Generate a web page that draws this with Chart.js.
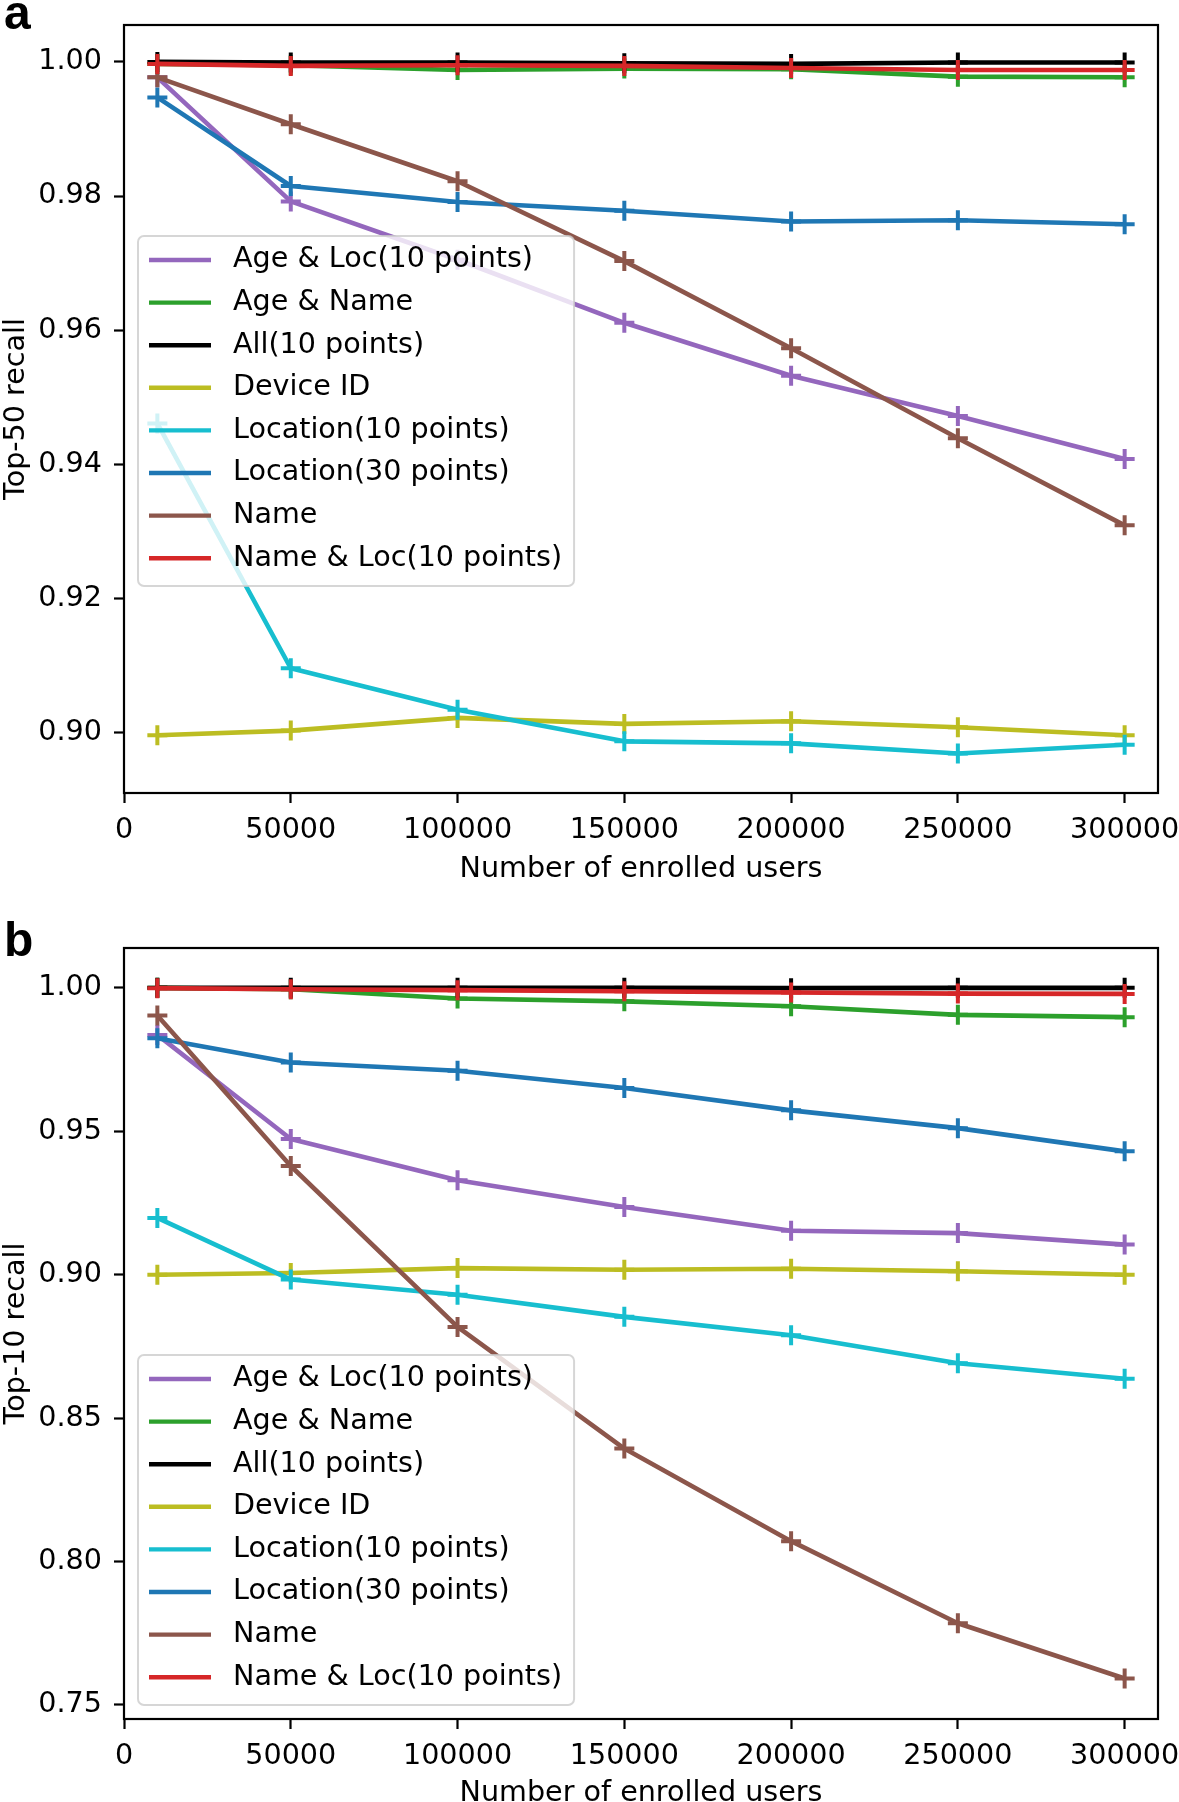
<!DOCTYPE html>
<html>
<head>
<meta charset="utf-8">
<script src="https://cdn.jsdelivr.net/npm/chart.js@4.4.1/dist/chart.umd.min.js"></script>
<style>
  body { margin: 0; background: #fff; }
  .wrap { position: absolute; left: 0; width: 1179px; }
  .panel { position: absolute; left: 4px; font: bold 48px "Liberation Sans", Arial, sans-serif; line-height: 48px; }
</style>
</head>
<body>
<div class="wrap" style="top:0;height:880px"><canvas id="chartA" width="1179" height="880"></canvas></div>
<div class="wrap" style="top:880px;height:922px"><canvas id="chartB" width="1179" height="922"></canvas></div>
<div class="panel" style="top:-11px">a</div>
<div class="panel" style="top:916px">b</div>
<script>
const users = [10000, 50000, 100000, 150000, 200000, 250000, 300000];
const xTicks = [0, 50000, 100000, 150000, 200000, 250000, 300000];
const yTicksTop50 = [0.90, 0.92, 0.94, 0.96, 0.98, 1.00];
const yTicksTop10 = [0.75, 0.80, 0.85, 0.90, 0.95, 1.00];

const seriesNames = ['Age & Loc(10 points)', 'Age & Name', 'All(10 points)', 'Device ID',
  'Location(10 points)', 'Location(30 points)', 'Name', 'Name & Loc(10 points)'];
const seriesColors = ['#9467bd', '#2ca02c', '#000000', '#bcbd22', '#17becf', '#1f77b4', '#8c564b', '#d62728'];

// top-50 recall (panel a)
const ageLoc50   = [0.9977, 0.9792, 0.9705, 0.9611, 0.9532, 0.9472, 0.9408];
const ageName50  = [0.9997, 0.9995, 0.9988, 0.9990, 0.9989, 0.9978, 0.9977];
const all50      = [1.0000, 0.9999, 0.9999, 0.9998, 0.9997, 0.9999, 0.9999];
const deviceId50 = [0.8996, 0.9003, 0.9022, 0.9013, 0.9017, 0.9008, 0.8996];
const loc10_50   = [0.9461, 0.9096, 0.9034, 0.8987, 0.8984, 0.8969, 0.8982];
const loc30_50   = [0.9947, 0.9815, 0.9791, 0.9778, 0.9762, 0.9764, 0.9758];
const name50     = [0.9977, 0.9907, 0.9822, 0.9703, 0.9573, 0.9439, 0.9309];
const nameLoc50  = [0.9997, 0.9994, 0.9995, 0.9994, 0.9991, 0.9988, 0.9988];

// top-10 recall (panel b)
const ageLoc10   = [0.9836, 0.9473, 0.9329, 0.9236, 0.9153, 0.9145, 0.9105];
const ageName10  = [1.0000, 0.9995, 0.9963, 0.9953, 0.9936, 0.9906, 0.9898];
const all10      = [1.0000, 1.0000, 1.0000, 1.0000, 0.9999, 1.0000, 1.0000];
const deviceId10 = [0.9000, 0.9006, 0.9023, 0.9017, 0.9021, 0.9012, 0.9000];
const loc10_10   = [0.9198, 0.8983, 0.8930, 0.8853, 0.8789, 0.8691, 0.8637];
const loc30_10   = [0.9824, 0.9740, 0.9711, 0.9651, 0.9573, 0.9511, 0.9430];
const name10     = [0.9904, 0.9379, 0.8818, 0.8394, 0.8071, 0.7785, 0.7592];
const nameLoc10  = [0.9999, 0.9995, 0.9992, 0.9988, 0.9984, 0.9980, 0.9979];

const top50 = [ageLoc50, ageName50, all50, deviceId50, loc10_50, loc30_50, name50, nameLoc50];
const top10 = [ageLoc10, ageName10, all10, deviceId10, loc10_10, loc30_10, name10, nameLoc10];

const FS = 28.6;
Chart.defaults.font.family = '"DejaVu Sans"';
Chart.defaults.color = '#000';

// matplotlib style box + legend inside the axes
const frameLegend = {
  id: 'frameLegend',
  afterDatasetsDraw(chart, args, opts) {
    const { ctx, chartArea: a } = chart;
    ctx.save();
    ctx.font = FS + 'px "DejaVu Sans"';
    const textW = Math.max(...chart.data.datasets.map(d => ctx.measureText(d.label).width));
    const w = 95 + textW + 12;
    const h = 350;
    const x = a.left + 14;
    const y = opts.top != null ? a.top + opts.top : a.bottom - 14 - h;
    ctx.beginPath();
    ctx.roundRect(x, y, w, h, 6);
    ctx.fillStyle = 'rgba(255,255,255,0.8)';
    ctx.fill();
    ctx.lineWidth = 2;
    ctx.strokeStyle = 'rgba(204,204,204,0.8)';
    ctx.stroke();
    ctx.textBaseline = 'middle';
    chart.data.datasets.forEach((d, i) => {
      const ry = y + 24 + i * 42.6;
      ctx.beginPath();
      ctx.moveTo(x + 11, ry);
      ctx.lineTo(x + 73, ry);
      ctx.strokeStyle = d.borderColor;
      ctx.lineWidth = 4.4;
      ctx.stroke();
      ctx.fillStyle = '#000';
      ctx.fillText(d.label, x + 95, ry);
    });
    ctx.strokeStyle = '#000';
    ctx.lineWidth = 2.2;
    ctx.strokeRect(a.left, a.top, a.right - a.left, a.bottom - a.top);
    ctx.restore();
  }
};

function makeDatasets(values) {
  return values.map((vals, i) => ({
    label: seriesNames[i],
    data: users.map((u, j) => ({ x: u, y: vals[j] })),
    borderColor: seriesColors[i],
    backgroundColor: seriesColors[i],
    borderWidth: 4.6,
    borderJoinStyle: 'round',
    pointStyle: 'cross',
    pointRadius: 10,
    pointBorderWidth: 4,
    pointBorderColor: seriesColors[i],
    order: seriesNames.length - i,
    tension: 0
  }));
}

function makeChart(id, values, yMin, yMax, yTicks, yTitle, xHeight, xTitlePad, topPad, legendTop) {
  return new Chart(document.getElementById(id), {
    type: 'line',
    data: { datasets: makeDatasets(values) },
    options: {
      responsive: false,
      animation: false,
      layout: { padding: { top: topPad, right: 21, left: 0, bottom: 0 } },
      plugins: {
        legend: { display: false },
        tooltip: { enabled: false },
        frameLegend: legendTop != null ? { top: legendTop } : {}
      },
      scales: {
        x: {
          type: 'linear',
          min: 0,
          max: 310000,
          afterBuildTicks: s => { s.ticks = xTicks.map(v => ({ value: v })); },
          afterFit: s => { s.height = xHeight; s.paddingLeft = 0; s.paddingRight = 0; },
          grid: { drawOnChartArea: false, tickLength: 10, tickWidth: 2.2, tickColor: '#000' },
          border: { display: false },
          ticks: { font: { size: FS }, padding: 10, maxRotation: 0, autoSkip: false, callback: v => String(v) },
          title: { display: true, text: 'Number of enrolled users', font: { size: FS, lineHeight: 1 }, padding: { top: 0, bottom: xTitlePad } }
        },
        y: {
          min: yMin,
          max: yMax,
          afterBuildTicks: s => { s.ticks = yTicks.map(v => ({ value: v })); },
          afterFit: s => { s.width = 124; s.paddingTop = 0; s.paddingBottom = 0; },
          grid: { drawOnChartArea: false, tickLength: 10, tickWidth: 2.2, tickColor: '#000' },
          border: { display: false },
          ticks: { font: { size: FS }, padding: 12, callback: v => v.toFixed(2) },
          title: { display: true, text: yTitle, font: { size: FS, lineHeight: 1 }, padding: { top: 2, bottom: 0 } }
        }
      }
    },
    plugins: [frameLegend]
  });
}

makeChart('chartA', top50, 0.8910, 1.0055, yTicksTop50, 'Top-50 recall', 87, -4, 25, 211);
makeChart('chartB', top10, 0.7451, 1.0139, yTicksTop10, 'Top-10 recall', 83, -6, 68, null);
</script>
</body>
</html>
